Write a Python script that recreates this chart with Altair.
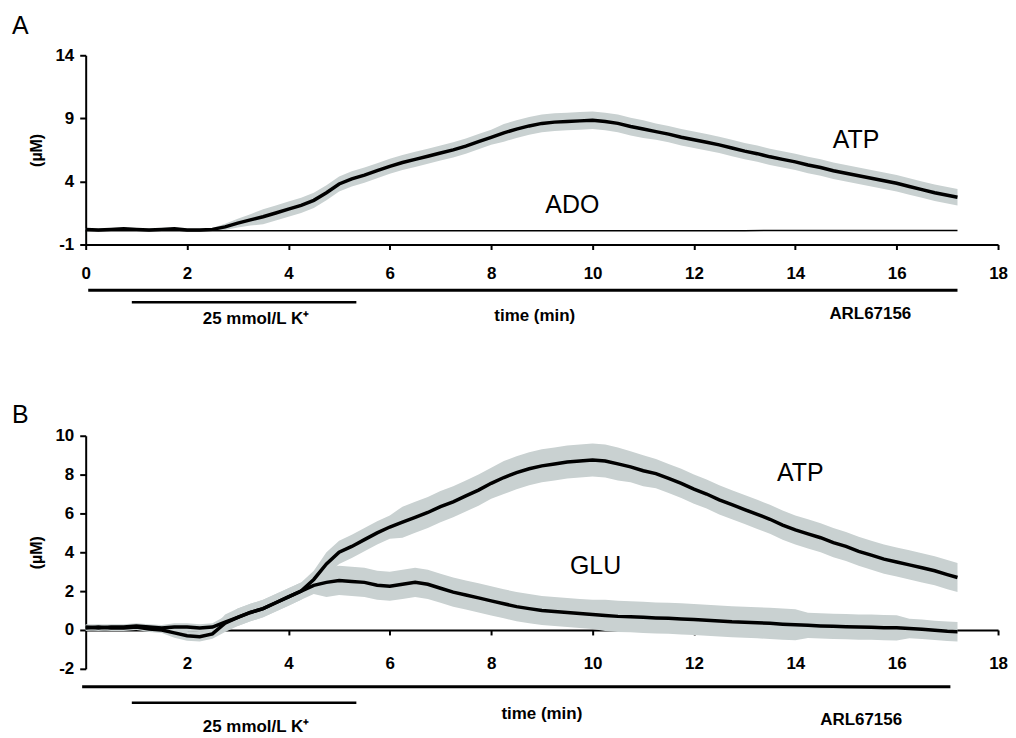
import altair as alt
import pandas as pd

# ---------------- data ----------------
TIME = [0.0, 0.25, 0.5, 0.75, 1.0, 1.25, 1.5, 1.75, 2.0, 2.25, 2.5, 2.75,
        3.0, 3.25, 3.5, 3.75, 4.0, 4.25, 4.5, 4.75, 5.0, 5.25, 5.5, 5.75,
        6.0, 6.25, 6.5, 6.75, 7.0, 7.25, 7.5, 7.75, 8.0, 8.25, 8.5, 8.75,
        9.0, 9.25, 9.5, 9.75, 10.0, 10.25, 10.5, 10.75, 11.0, 11.25, 11.5, 11.75,
        12.0, 12.25, 12.5, 12.75, 13.0, 13.25, 13.5, 13.75, 14.0, 14.25, 14.5, 14.75,
        15.0, 15.25, 15.5, 15.75, 16.0, 16.25, 16.5, 16.75, 17.0, 17.2]

A_ATP = [0.2, 0.15, 0.2, 0.25, 0.2, 0.15, 0.2, 0.25, 0.15, 0.15, 0.2, 0.4,
         0.7, 0.95, 1.2, 1.5, 1.8, 2.1, 2.5, 3.1, 3.8, 4.2, 4.5, 4.85,
         5.2, 5.5, 5.75, 6.0, 6.25, 6.5, 6.8, 7.15, 7.5, 7.85, 8.15, 8.4,
         8.6, 8.7, 8.75, 8.8, 8.85, 8.75, 8.6, 8.35, 8.15, 7.95, 7.75, 7.5,
         7.3, 7.1, 6.9, 6.65, 6.4, 6.2, 5.95, 5.75, 5.55, 5.3, 5.1, 4.85,
         4.65, 4.45, 4.25, 4.05, 3.85, 3.6, 3.35, 3.1, 2.9, 2.75]
A_ATP_ERR = [0.1, 0.1, 0.1, 0.1, 0.1, 0.1, 0.1, 0.1, 0.1, 0.1, 0.1, 0.25,
             0.35, 0.45, 0.6, 0.6, 0.6, 0.6, 0.6, 0.6, 0.6, 0.6, 0.6, 0.6,
             0.6, 0.6, 0.6, 0.6, 0.6, 0.6, 0.6, 0.6, 0.6, 0.7, 0.7, 0.7,
             0.7, 0.7, 0.7, 0.7, 0.7, 0.7, 0.7, 0.7, 0.7, 0.65, 0.65, 0.65,
             0.65, 0.65, 0.65, 0.65, 0.65, 0.65, 0.65, 0.65, 0.65, 0.65, 0.65, 0.65,
             0.65, 0.65, 0.65, 0.65, 0.65, 0.65, 0.65, 0.65, 0.65, 0.65]

ADO_TIME = [0, 1, 2, 3, 4, 5, 6, 7, 8, 9, 10, 11, 12, 13, 14, 15, 16, 17, 17.2]
A_ADO = [0.1, 0.1, 0.1, 0.1, 0.1, 0.1, 0.1, 0.1, 0.1, 0.1, 0.1, 0.1, 0.1,
         0.1, 0.12, 0.12, 0.12, 0.12, 0.12]

B_ATP = [0.15, 0.1, 0.15, 0.15, 0.2, 0.15, 0.1, 0.15, 0.15, 0.1, 0.15, 0.4,
         0.65, 0.9, 1.1, 1.4, 1.7, 2.0, 2.6, 3.4, 4.0, 4.3, 4.65, 5.0,
         5.3, 5.55, 5.8, 6.05, 6.35, 6.6, 6.9, 7.2, 7.55, 7.85, 8.1, 8.3,
         8.45, 8.55, 8.65, 8.7, 8.75, 8.7, 8.55, 8.4, 8.2, 8.05, 7.8, 7.55,
         7.25, 7.0, 6.7, 6.45, 6.2, 5.95, 5.7, 5.4, 5.15, 4.95, 4.75, 4.5,
         4.3, 4.05, 3.85, 3.65, 3.5, 3.35, 3.2, 3.05, 2.85, 2.7]
B_ATP_ERR = [0.15, 0.15, 0.15, 0.15, 0.15, 0.15, 0.15, 0.2, 0.2, 0.2, 0.2, 0.3,
             0.45, 0.45, 0.45, 0.45, 0.45, 0.45, 0.45, 0.6, 0.6, 0.6, 0.6, 0.6,
             0.6, 0.8, 0.8, 0.8, 0.8, 0.8, 0.8, 0.8, 0.8, 0.85, 0.85, 0.85,
             0.85, 0.85, 0.85, 0.85, 0.85, 0.85, 0.85, 0.8, 0.8, 0.75, 0.75, 0.75,
             0.75, 0.75, 0.75, 0.75, 0.75, 0.75, 0.75, 0.75, 0.75, 0.75, 0.75, 0.75,
             0.75, 0.75, 0.75, 0.75, 0.75, 0.75, 0.75, 0.75, 0.75, 0.75]

B_GLU = [0.1, 0.15, 0.1, 0.1, 0.15, 0.05, 0.0, -0.15, -0.3, -0.35, -0.2, 0.35,
         0.65, 0.9, 1.1, 1.4, 1.7, 2.0, 2.3, 2.45, 2.55, 2.5, 2.45, 2.3,
         2.25, 2.35, 2.45, 2.35, 2.15, 1.95, 1.8, 1.65, 1.5, 1.35, 1.2, 1.1,
         1.0, 0.95, 0.9, 0.85, 0.8, 0.75, 0.7, 0.68, 0.65, 0.62, 0.6, 0.57,
         0.54, 0.5, 0.46, 0.42, 0.4, 0.37, 0.34, 0.3, 0.27, 0.24, 0.21, 0.19,
         0.17, 0.15, 0.14, 0.12, 0.11, 0.08, 0.04, -0.02, -0.07, -0.09]
B_GLU_ERR = [0.15, 0.15, 0.15, 0.15, 0.15, 0.15, 0.15, 0.25, 0.25, 0.25, 0.25, 0.45,
             0.45, 0.45, 0.45, 0.45, 0.45, 0.45, 0.45, 0.75, 0.75, 0.75, 0.75, 0.75,
             0.75, 0.75, 0.75, 0.75, 0.75, 0.75, 0.75, 0.75, 0.75, 0.75, 0.75, 0.75,
             0.75, 0.75, 0.75, 0.75, 0.75, 0.8, 0.8, 0.8, 0.8, 0.8, 0.8, 0.8,
             0.8, 0.8, 0.8, 0.8, 0.8, 0.8, 0.8, 0.8, 0.8, 0.65, 0.65, 0.65,
             0.65, 0.65, 0.65, 0.65, 0.65, 0.5, 0.5, 0.5, 0.5, 0.5]

X_TICKS_A = [0, 2, 4, 6, 8, 10, 12, 14, 16, 18]
X_TICKS_B = [2, 4, 6, 8, 10, 12, 14, 16, 18]
Y_TICKS_A = [-1, 4, 9, 14]
Y_TICKS_B = [-2, 0, 2, 4, 6, 8, 10]

ARL_SPAN_A = [0.05, 17.2]
ARL_SPAN_B = [-0.07, 17.06]
K_SPAN = [0.91, 5.34]
K_LABEL = "25 mmol/L K\u207a"

FONT = "Liberation Sans"
BAND = "#c9d1d1"

W = 916
HA = 190
HB = 234


def series(t, v, e, name):
    return pd.DataFrame({"time": t, "value": v, "err": e, "series": name})


def axis_x(values, pad, offset=0):
    return alt.Axis(values=values, tickCount=len(values) + 5, title=None,
                    grid=False, labelExpr="'' + datum.value",
                    domainColor="black", domainWidth=2, tickColor="black",
                    tickWidth=2, tickSize=5, labelFont=FONT, labelFontSize=17,
                    labelFontWeight="bold", labelColor="black", labelPadding=pad,
                    labelFlush=False, labelOverlap=False, offset=offset)


def axis_y(values):
    return alt.Axis(values=values, tickCount=len(values) + 5, title="(\u00b5M)",
                    grid=False, labelExpr="'' + datum.value",
                    domainColor="black", domainWidth=2, tickColor="black",
                    tickWidth=2, tickSize=6, labelFont=FONT, labelFontSize=17,
                    labelFontWeight="bold", labelColor="black", labelPadding=6,
                    labelFlush=False, labelOverlap=False,
                    titleFont=FONT, titleFontSize=16, titleFontWeight="bold",
                    titleColor="black", titlePadding=10)


def band_and_line(df, xs, ys, width):
    base = alt.Chart(df).transform_calculate(
        lo="datum.value - datum.err", hi="datum.value + datum.err")
    band = base.mark_area(color=BAND, opacity=1).encode(
        x=alt.X("time:Q", scale=xs),
        y=alt.Y("lo:Q", scale=ys),
        y2="hi:Q",
    )
    line = base.mark_line(color="black", strokeWidth=width).encode(
        x=alt.X("time:Q", scale=xs),
        y=alt.Y("value:Q", scale=ys),
    )
    return band, line


def span_rule(span, xs, ypix, width):
    d = pd.DataFrame({"start": [span[0]], "end": [span[1]]})
    return alt.Chart(d).mark_rule(color="black", strokeWidth=width).encode(
        x=alt.X("start:Q", scale=xs), x2="end:Q", y=alt.value(ypix))


def note(text, t, xs, ypix, size=17):
    d = pd.DataFrame({"t": [t], "label": [text]})
    return alt.Chart(d).mark_text(
        font=FONT, fontSize=size, fontWeight="bold",
        color="black", align="center", baseline="middle").encode(
        x=alt.X("t:Q", scale=xs), y=alt.value(ypix), text="label:N")


def series_label(text, t, v, xs, ys):
    d = pd.DataFrame({"t": [t], "v": [v], "label": [text]})
    return alt.Chart(d).mark_text(
        font=FONT, fontSize=25, color="black", align="center",
        baseline="middle").encode(
        x=alt.X("t:Q", scale=xs),
        y=alt.Y("v:Q", scale=ys), text="label:N")


def panel_letter(letter, ypix):
    d = pd.DataFrame({"label": [letter]})
    return alt.Chart(d).mark_text(
        font=FONT, fontSize=25, color="black", align="left",
        baseline="top").encode(x=alt.value(-74), y=alt.value(ypix),
                               text="label:N")


def axes_layer(df, xs, ys, xaxis, yaxis):
    # invisible layer that carries the two axes of the panel
    return alt.Chart(df).mark_line(opacity=0).encode(
        x=alt.X("time:Q", scale=xs, axis=xaxis),
        y=alt.Y("value:Q", scale=ys, axis=yaxis),
    )


# ---------------- panel A ----------------
xsA = alt.Scale(domain=[0, 18], nice=False, zero=False)
ysA = alt.Scale(domain=[-1, 14], nice=False, zero=False)

dfA = series(TIME, A_ATP, A_ATP_ERR, "ATP")
bandA, lineA = band_and_line(dfA, xsA, ysA, 3.5)
adoA = alt.Chart(pd.DataFrame({"time": ADO_TIME, "value": A_ADO})).mark_line(
    color="black", strokeWidth=1.5).encode(
    x=alt.X("time:Q", scale=xsA),
    y=alt.Y("value:Q", scale=ysA))

panelA = alt.layer(
    axes_layer(dfA, xsA, ysA, axis_x(X_TICKS_A, 16), axis_y(Y_TICKS_A)),
    bandA, lineA, adoA,
    series_label("ATP", 15.2, 7.3, xsA, ysA),
    series_label("ADO", 9.6, 2.1, xsA, ysA),
    panel_letter("A", -41),
    span_rule(ARL_SPAN_A, xsA, HA + 46, 3),
    span_rule(K_SPAN, xsA, HA + 58, 2.5),
    note(K_LABEL, 3.36, xsA, HA + 75),
    note("time (min)", 8.86, xsA, HA + 72),
    note("ARL67156", 15.48, xsA, HA + 70),
).properties(width=W, height=HA)

# ---------------- panel B ----------------
xsB = alt.Scale(domain=[0, 18], nice=False, zero=False)
ysB = alt.Scale(domain=[-2, 10], nice=False, zero=False)

dfB1 = series(TIME, B_ATP, B_ATP_ERR, "ATP")
dfB2 = series(TIME, B_GLU, B_GLU_ERR, "GLU")
bandB1, lineB1 = band_and_line(dfB1, xsB, ysB, 3.5)
bandB2, lineB2 = band_and_line(dfB2, xsB, ysB, 3.5)

panelB = alt.layer(
    axes_layer(dfB1, xsB, ysB, axis_x(X_TICKS_B, 21, offset=-HB * 2 / 12),
               axis_y(Y_TICKS_B)),
    bandB1, bandB2, lineB1, lineB2,
    series_label("ATP", 14.1, 8.1, xsB, ysB),
    series_label("GLU", 10.06, 3.3, xsB, ysB),
    panel_letter("B", -33),
    span_rule(ARL_SPAN_B, xsB, HB + 18, 3),
    span_rule(K_SPAN, xsB, HB + 34, 2.5),
    note(K_LABEL, 3.36, xsB, HB + 58),
    note("time (min)", 9.0, xsB, HB + 45),
    note("ARL67156", 15.3, xsB, HB + 51),
).properties(width=W, height=HB)

chart = alt.vconcat(panelA, panelB, spacing=192, bounds="flush").configure_view(
    stroke=None).properties(
    padding={"left": 4, "top": 5, "right": 0, "bottom": 0})

chart.save("out.html", embed_options={"renderer": "svg", "actions": False})
